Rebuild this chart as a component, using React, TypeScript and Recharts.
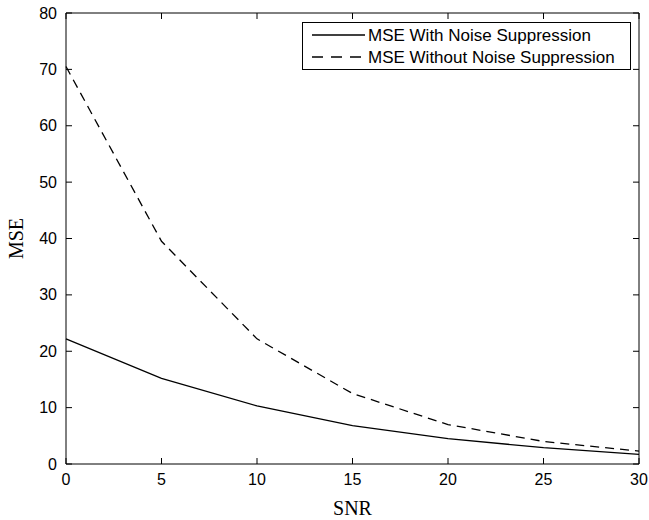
import { Line, LineChart, XAxis, YAxis } from "recharts";

const snr = [0, 5, 10, 15, 20, 25, 30];
const mseWith = [22.2, 15.2, 10.3, 6.8, 4.5, 2.9, 1.7];
const mseWithout = [70.5, 39.5, 22.2, 12.5, 7.0, 4.0, 2.3];
const xTicks = [0, 5, 10, 15, 20, 25, 30];
const yTicks = [0, 10, 20, 30, 40, 50, 60, 70, 80];

const data = snr.map((s, i) => ({ snr: s, withNs: mseWith[i], withoutNs: mseWithout[i] }));

const tickFont = "'Liberation Sans', Arial, Helvetica, sans-serif";
const labelFont = "'Liberation Serif', 'Times New Roman', serif";
const TICK_LEN = 6;

function BottomTick(props: any) {
  const { x, y, payload } = props;
  const axisY = y - 9;
  return (
    <g>
      <line x1={x} y1={axisY} x2={x} y2={axisY - TICK_LEN} stroke="#000" />
      <text x={x} y={y} dy="0.75em" textAnchor="middle" fontSize={16} fontFamily={tickFont} fill="#000">
        {payload.value}
      </text>
    </g>
  );
}

function TopTick(props: any) {
  const { x, y } = props;
  return <line x1={x} y1={y} x2={x} y2={y + TICK_LEN} stroke="#000" />;
}

function LeftTick(props: any) {
  const { x, y, payload } = props;
  const axisX = x + 9;
  return (
    <g>
      <line x1={axisX} y1={y} x2={axisX + TICK_LEN} y2={y} stroke="#000" />
      <text x={x} y={y} dy="0.35em" textAnchor="end" fontSize={16} fontFamily={tickFont} fill="#000">
        {payload.value}
      </text>
    </g>
  );
}

function RightTick(props: any) {
  const { x, y } = props;
  return <line x1={x} y1={y} x2={x - TICK_LEN} y2={y} stroke="#000" />;
}

function LegendBox() {
  const rows = [
    { label: "MSE With Noise Suppression", dash: undefined },
    { label: "MSE Without Noise Suppression", dash: "11 8" },
  ];
  return (
    <svg width={330} height={49} style={{ display: "block" }}>
      <rect x={0.5} y={0.5} width={328} height={47} fill="#fff" stroke="#000" />
      {rows.map((r, i) => (
        <g key={r.label}>
          <line x1={10} x2={63} y1={13 + i * 22} y2={13 + i * 22} stroke="#000" strokeWidth={1.3} strokeDasharray={r.dash} />
          <text x={66} y={13 + i * 22} dy="0.35em" fontSize={17} fontFamily={tickFont} fill="#000">
            {r.label}
          </text>
        </g>
      ))}
    </svg>
  );
}

export default function App() {
  return (
    <div style={{ position: "fixed", left: 0, top: 0, width: 649, height: 520, background: "#fff" }}>
      <LineChart width={649} height={520} data={data} margin={{ top: 12, right: 9, bottom: 0, left: 0 }}>
        <XAxis
          dataKey="snr"
          type="number"
          domain={[0, 30]}
          ticks={xTicks}
          height={56}
          tickSize={0}
          tickMargin={9}
          tick={<BottomTick />}
          axisLine={{ stroke: "#000" }}
          tickLine={false}
          label={{ value: "SNR", position: "insideBottom", offset: 5, fontSize: 20, fontFamily: labelFont, fill: "#000" }}
        />
        <XAxis
          xAxisId="top"
          orientation="top"
          dataKey="snr"
          type="number"
          domain={[0, 30]}
          ticks={xTicks}
          height={1}
          tickSize={0}
          tickMargin={0}
          tick={<TopTick />}
          axisLine={{ stroke: "#000" }}
          tickLine={false}
        />
        <YAxis
          type="number"
          domain={[0, 80]}
          ticks={yTicks}
          width={66}
          tickSize={0}
          tickMargin={9}
          tick={<LeftTick />}
          axisLine={{ stroke: "#000" }}
          tickLine={false}
          label={{
            content: (p: any) => {
              const vb = p.viewBox || { x: 0, y: 0, height: 0 };
              const cx = 16;
              const cy = vb.y + vb.height / 2;
              return (
                <text x={cx} y={cy} transform={`rotate(-90 ${cx} ${cy})`} textAnchor="middle" dy="0.35em" fontSize={20} fontFamily={labelFont} fill="#000">
                  MSE
                </text>
              );
            },
          }}
        />
        <YAxis
          yAxisId="right"
          orientation="right"
          type="number"
          domain={[0, 80]}
          ticks={yTicks}
          width={1}
          tickSize={0}
          tickMargin={0}
          tick={<RightTick />}
          axisLine={{ stroke: "#000" }}
          tickLine={false}
        />
        <Line dataKey="withNs" stroke="#000" strokeWidth={1.3} dot={false} isAnimationActive={false} type="linear" />
        <Line dataKey="withoutNs" stroke="#000" strokeWidth={1.3} strokeDasharray="9 6" dot={false} isAnimationActive={false} type="linear" />
        <Line dataKey="withNs" xAxisId="top" yAxisId="right" stroke="none" dot={false} activeDot={false} isAnimationActive={false} legendType="none" />
      </LineChart>
      <div style={{ position: "absolute", left: 302, top: 22 }}>
        <LegendBox />
      </div>
    </div>
  );
}
